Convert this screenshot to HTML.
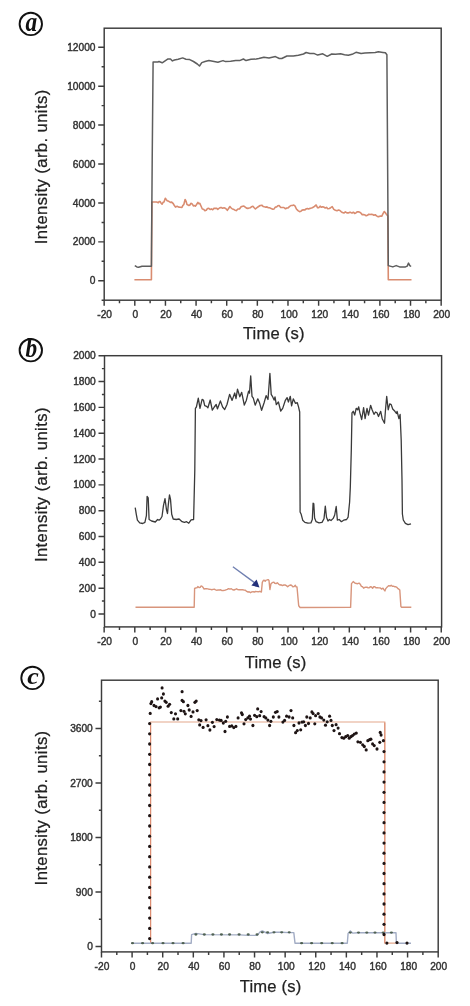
<!DOCTYPE html>
<html><head><meta charset="utf-8"><title>Intensity vs time</title>
<style>
html,body{margin:0;padding:0;background:#fff;}
body{width:470px;height:1006px;overflow:hidden;}
svg{display:block;}
.tk{font-family:"Liberation Sans", Arial, Helvetica, sans-serif;font-size:10.2px;fill:#333333;stroke:#333333;stroke-width:0.42px;}
.al{font-family:"Liberation Sans", Arial, Helvetica, sans-serif;font-size:16.6px;fill:#222;stroke:#222;stroke-width:0.25px;}
.yl{letter-spacing:0.42px;}
.xl{letter-spacing:0.2px;}
.bd{font-family:"Liberation Serif", "Times New Roman", serif;font-size:26.5px;font-weight:bold;font-style:italic;fill:#111;}
</style></head>
<body>
<svg width="470" height="1006" viewBox="0 0 470 1006">
<rect x="0" y="0" width="470" height="1006" fill="#fff"/>
<rect x="104.2" y="28.2" width="337.00" height="272.00" fill="none" stroke="#3c3c3c" stroke-width="1.45"/>
<path d="M98.2,280.80H104.2 M98.2,241.87H104.2 M98.2,202.94H104.2 M98.2,164.01H104.2 M98.2,125.08H104.2 M98.2,86.15H104.2 M98.2,47.22H104.2 M101.6,300.26H104.2 M101.6,261.34H104.2 M101.6,222.41H104.2 M101.6,183.48H104.2 M101.6,144.55H104.2 M101.6,105.62H104.2 M101.6,66.69H104.2 M104.16,300.2V305.7 M134.80,300.2V305.7 M165.44,300.2V305.7 M196.07,300.2V305.7 M226.71,300.2V305.7 M257.35,300.2V305.7 M287.98,300.2V305.7 M318.62,300.2V305.7 M349.25,300.2V305.7 M379.89,300.2V305.7 M410.53,300.2V305.7 M441.16,300.2V305.7 M119.48,300.2V303.2 M150.12,300.2V303.2 M180.75,300.2V303.2 M211.39,300.2V303.2 M242.03,300.2V303.2 M272.66,300.2V303.2 M303.30,300.2V303.2 M333.94,300.2V303.2 M364.57,300.2V303.2 M395.21,300.2V303.2 M425.85,300.2V303.2" stroke="#3c3c3c" stroke-width="1.45" fill="none"/>
<text x="95.5" y="284.40" text-anchor="end" class="tk">0</text>
<text x="95.5" y="245.47" text-anchor="end" class="tk">2000</text>
<text x="95.5" y="206.54" text-anchor="end" class="tk">4000</text>
<text x="95.5" y="167.61" text-anchor="end" class="tk">6000</text>
<text x="95.5" y="128.68" text-anchor="end" class="tk">8000</text>
<text x="95.5" y="89.75" text-anchor="end" class="tk">10000</text>
<text x="95.5" y="50.82" text-anchor="end" class="tk">12000</text>
<text x="104.66" y="318.0" text-anchor="middle" class="tk">-20</text>
<text x="135.30" y="318.0" text-anchor="middle" class="tk">0</text>
<text x="165.94" y="318.0" text-anchor="middle" class="tk">20</text>
<text x="196.57" y="318.0" text-anchor="middle" class="tk">40</text>
<text x="227.21" y="318.0" text-anchor="middle" class="tk">60</text>
<text x="257.85" y="318.0" text-anchor="middle" class="tk">80</text>
<text x="289.08" y="318.0" text-anchor="middle" class="tk">100</text>
<text x="319.72" y="318.0" text-anchor="middle" class="tk">120</text>
<text x="350.35" y="318.0" text-anchor="middle" class="tk">140</text>
<text x="380.99" y="318.0" text-anchor="middle" class="tk">160</text>
<text x="411.63" y="318.0" text-anchor="middle" class="tk">180</text>
<text x="441.66" y="318.0" text-anchor="middle" class="tk">200</text>
<text x="273.8" y="338.8" text-anchor="middle" class="al xl">Time (s)</text>
<text transform="translate(47.0,166.8) rotate(-90)" text-anchor="middle" class="al yl">Intensity (arb. units)</text>
<circle cx="30.8" cy="23.9" r="11.2" fill="none" stroke="#111" stroke-width="1.9"/>
<text transform="translate(31.2,30.5) scale(0.880,1.000)" text-anchor="middle" class="bd">a</text>
<polyline points="134.4,279.7 151.4,279.7 151.9,202.0 155.1,202.0 156.7,202.0 158.3,202.7 159.2,201.5 160.2,201.6 161.1,203.2 162.1,204.2 163.1,202.3 164.0,202.0 165.3,198.2 166.2,199.5 167.2,200.7 168.8,201.3 170.4,202.4 171.7,202.1 173.0,203.3 174.2,205.2 175.5,207.1 177.1,206.3 178.7,207.1 180.3,207.2 181.9,207.5 182.9,205.3 183.8,204.6 185.1,199.5 186.1,201.3 187.0,204.6 187.9,204.9 188.9,205.5 189.9,205.0 190.9,203.3 192.2,203.9 193.4,205.9 194.4,205.6 195.3,206.2 196.6,204.5 197.9,202.4 198.9,203.7 199.8,203.3 201.1,206.3 202.3,209.0 203.6,209.2 204.9,210.7 206.2,210.3 207.5,208.5 208.8,208.4 210.1,209.5 211.4,208.9 212.7,209.7 213.9,208.4 215.2,208.4 216.5,208.2 217.8,209.3 219.4,208.0 221.0,207.4 222.6,208.2 224.1,207.8 225.7,208.5 227.3,210.3 228.6,208.5 229.9,206.5 231.2,208.0 232.4,209.0 233.7,209.3 235.0,210.2 236.3,210.6 237.9,209.0 239.5,209.0 241.1,206.8 242.7,206.2 243.9,206.1 245.2,207.1 246.5,208.1 247.8,208.4 249.1,208.0 250.3,207.8 251.6,206.7 252.9,206.2 254.2,207.8 255.4,209.0 257.0,207.7 258.6,206.5 260.2,205.5 261.8,205.2 263.1,206.4 264.4,206.8 265.7,207.1 267.0,206.9 268.3,207.7 269.6,207.8 271.2,208.6 272.8,209.3 274.1,208.9 275.3,207.1 276.6,207.0 277.8,205.7 279.1,205.5 280.7,207.4 282.3,207.5 283.9,207.5 285.5,208.8 286.8,208.0 288.1,207.9 289.4,206.7 290.9,205.5 292.3,205.5 293.8,205.0 295.1,206.2 296.4,209.0 298.0,210.6 299.6,211.6 300.9,211.3 302.1,210.1 303.4,209.9 304.7,210.0 306.0,209.0 307.3,208.5 308.5,209.0 309.8,208.4 311.1,208.1 312.3,207.7 313.6,207.1 314.9,206.0 316.2,205.0 317.6,207.8 318.9,207.6 320.1,206.2 321.4,207.3 322.6,206.8 323.9,207.1 325.2,208.0 326.5,207.4 327.8,208.8 329.3,208.5 330.7,207.7 332.2,206.7 333.8,209.4 335.4,210.3 337.0,210.8 338.6,210.1 339.9,210.5 341.1,211.6 342.4,212.6 343.9,213.0 345.4,211.9 346.9,212.9 348.2,212.9 349.4,212.4 350.7,212.4 352.0,213.1 353.3,212.2 354.6,213.4 355.9,212.9 357.4,211.7 359.0,211.9 360.6,212.8 362.2,214.6 363.6,214.6 365.0,215.0 366.2,215.8 367.5,215.3 368.8,214.2 370.1,214.5 371.4,214.3 372.7,214.5 373.9,215.3 375.2,214.7 376.5,215.9 377.8,216.6 379.1,216.6 380.4,216.1 381.7,216.3 383.0,213.7 384.3,211.5 385.2,212.5 386.2,214.0 387.8,216.0 388.3,279.7 411.5,279.7" fill="none" stroke="#d98c70" stroke-width="1.6" stroke-linejoin="round"/>
<polyline points="134.8,265.6 136.9,266.9 138.6,267.3 142.0,266.2 151.4,266.2 152.2,160.0 153.1,62.1 157.8,62.1 159.0,61.5 162.2,62.8 168.0,58.9 170.5,58.9 172.4,60.9 174.4,60.0 178.2,59.2 182.7,57.9 185.9,59.2 189.7,59.6 193.5,61.5 197.3,64.0 199.5,66.0 201.8,62.6 205.0,61.5 208.9,60.6 212.8,61.3 217.9,62.2 223.0,60.6 225.5,61.6 230.6,61.2 235.7,60.6 239.6,60.6 243.4,59.0 246.0,60.6 251.0,59.3 256.2,59.0 258.8,58.5 263.9,57.2 269.0,57.9 275.4,56.6 279.3,58.5 281.8,58.5 286.9,56.0 293.3,56.0 298.4,55.3 303.5,54.0 306.1,52.5 309.9,53.4 313.8,53.4 317.7,55.1 322.8,53.8 327.2,56.3 331.7,54.0 335.5,54.3 340.6,53.8 344.5,54.7 348.3,55.3 352.1,54.3 356.0,52.3 361.1,53.4 364.9,53.0 370.1,52.8 375.2,52.5 378.4,51.7 382.9,52.4 385.4,52.8 386.9,54.7 388.3,265.6 392.8,266.9 396.2,265.6 399.6,266.9 405.5,266.9 407.2,266.1 408.5,263.1 409.8,265.6 411.1,266.5" fill="none" stroke="#5e5e5e" stroke-width="1.5" stroke-linejoin="round"/>
<rect x="104.5" y="355.7" width="337.10" height="271.20" fill="none" stroke="#3c3c3c" stroke-width="1.45"/>
<path d="M98.5,614.00H104.5 M98.5,588.17H104.5 M98.5,562.34H104.5 M98.5,536.51H104.5 M98.5,510.68H104.5 M98.5,484.85H104.5 M98.5,459.02H104.5 M98.5,433.19H104.5 M98.5,407.36H104.5 M98.5,381.53H104.5 M98.5,355.70H104.5 M101.9,601.09H104.5 M101.9,575.25H104.5 M101.9,549.42H104.5 M101.9,523.60H104.5 M101.9,497.76H104.5 M101.9,471.94H104.5 M101.9,446.11H104.5 M101.9,420.27H104.5 M101.9,394.45H104.5 M101.9,368.62H104.5 M104.15,626.9V632.4 M134.80,626.9V632.4 M165.45,626.9V632.4 M196.09,626.9V632.4 M226.74,626.9V632.4 M257.38,626.9V632.4 M288.03,626.9V632.4 M318.67,626.9V632.4 M349.32,626.9V632.4 M379.96,626.9V632.4 M410.61,626.9V632.4 M441.25,626.9V632.4 M119.48,626.9V629.9 M150.12,626.9V629.9 M180.77,626.9V629.9 M211.41,626.9V629.9 M242.06,626.9V629.9 M272.70,626.9V629.9 M303.35,626.9V629.9 M334.00,626.9V629.9 M364.64,626.9V629.9 M395.29,626.9V629.9 M425.93,626.9V629.9" stroke="#3c3c3c" stroke-width="1.45" fill="none"/>
<text x="95.8" y="617.60" text-anchor="end" class="tk">0</text>
<text x="95.8" y="591.77" text-anchor="end" class="tk">200</text>
<text x="95.8" y="565.94" text-anchor="end" class="tk">400</text>
<text x="95.8" y="540.11" text-anchor="end" class="tk">600</text>
<text x="95.8" y="514.28" text-anchor="end" class="tk">800</text>
<text x="95.8" y="488.45" text-anchor="end" class="tk">1000</text>
<text x="95.8" y="462.62" text-anchor="end" class="tk">1200</text>
<text x="95.8" y="436.79" text-anchor="end" class="tk">1400</text>
<text x="95.8" y="410.96" text-anchor="end" class="tk">1600</text>
<text x="95.8" y="385.13" text-anchor="end" class="tk">1800</text>
<text x="95.8" y="359.30" text-anchor="end" class="tk">2000</text>
<text x="104.65" y="645.0" text-anchor="middle" class="tk">-20</text>
<text x="135.30" y="645.0" text-anchor="middle" class="tk">0</text>
<text x="165.95" y="645.0" text-anchor="middle" class="tk">20</text>
<text x="196.59" y="645.0" text-anchor="middle" class="tk">40</text>
<text x="227.24" y="645.0" text-anchor="middle" class="tk">60</text>
<text x="257.88" y="645.0" text-anchor="middle" class="tk">80</text>
<text x="289.13" y="645.0" text-anchor="middle" class="tk">100</text>
<text x="319.77" y="645.0" text-anchor="middle" class="tk">120</text>
<text x="350.42" y="645.0" text-anchor="middle" class="tk">140</text>
<text x="381.06" y="645.0" text-anchor="middle" class="tk">160</text>
<text x="411.71" y="645.0" text-anchor="middle" class="tk">180</text>
<text x="441.75" y="645.0" text-anchor="middle" class="tk">200</text>
<text x="275.6" y="667.6" text-anchor="middle" class="al xl">Time (s)</text>
<text transform="translate(47.0,484.6) rotate(-90)" text-anchor="middle" class="al yl">Intensity (arb. units)</text>
<circle cx="30.8" cy="350.2" r="11.2" fill="none" stroke="#111" stroke-width="1.9"/>
<text transform="translate(31.2,356.8) scale(0.880,1.000)" text-anchor="middle" class="bd">b</text>
<polyline points="135.5,607.3 194.2,607.3 194.6,588.5 195.9,587.9 196.9,587.8 197.8,586.6 199.3,587.6 200.2,587.4 201.0,586.0 201.9,586.1 202.9,587.2 204.1,589.1 205.4,588.7 206.7,588.8 207.9,588.9 209.2,589.3 210.5,589.4 211.8,589.7 213.1,589.4 214.3,589.2 215.6,589.9 216.9,590.2 218.2,589.9 219.4,590.0 220.7,589.8 222.0,590.6 223.3,590.5 224.6,590.4 225.9,589.8 227.3,589.4 228.6,588.6 230.0,589.2 231.3,588.7 232.7,589.7 234.0,590.0 235.2,589.5 236.5,588.8 237.8,589.6 239.0,589.8 240.3,589.7 241.6,589.7 242.8,589.8 244.1,590.1 245.4,590.2 246.7,591.4 248.0,592.0 249.2,591.7 250.5,592.7 251.8,591.9 253.1,591.8 254.4,592.0 255.7,591.5 256.9,591.6 258.2,591.8 259.8,591.3 261.4,592.0 262.3,582.4 263.3,580.5 264.2,580.2 265.2,581.2 266.1,580.1 267.1,579.9 268.1,579.6 269.0,580.5 269.9,589.5 271.0,583.7 271.9,582.9 272.9,582.4 273.9,582.2 274.8,583.3 276.1,583.6 277.3,582.8 278.6,584.1 279.9,585.0 281.1,584.8 282.4,585.6 283.8,585.0 285.1,585.0 286.4,585.6 287.7,586.7 288.9,585.7 290.2,585.0 291.5,585.3 292.8,586.7 294.1,586.5 295.3,585.3 296.1,586.8 297.0,587.0 298.7,605.7 300.1,607.5 350.6,607.4 351.5,583.6 353.2,581.6 354.3,582.5 355.4,583.4 356.5,583.5 357.7,583.7 359.1,583.1 360.2,584.2 361.4,586.4 362.5,586.7 363.6,588.2 364.8,587.4 365.9,587.1 367.0,587.2 368.1,587.9 369.2,587.8 370.3,586.7 371.5,587.0 372.6,588.2 373.7,586.8 374.8,586.7 375.9,587.8 377.0,587.6 378.1,587.8 379.3,587.9 380.4,588.0 381.5,589.1 383.0,588.2 383.9,589.6 384.9,590.9 385.8,588.6 386.7,587.6 387.8,586.6 388.9,585.6 390.0,586.1 391.2,585.2 392.3,586.2 393.4,586.1 394.5,586.7 395.6,586.7 396.8,587.3 397.9,588.6 398.9,589.2 399.8,590.1 400.9,606.5 401.6,607.2 411.3,607.2" fill="none" stroke="#d8957c" stroke-width="1.4" stroke-linejoin="round"/>
<polyline points="135.2,507.6 136.3,514.3 137.4,520.2 139.7,522.9 142.7,523.5 144.9,522.4 146.4,515.7 147.1,496.4 148.2,497.9 149.1,519.5 151.6,521.0 155.3,522.0 157.6,519.5 159.0,520.2 160.5,519.0 162.0,516.5 163.5,505.3 165.0,498.6 166.5,509.8 167.5,513.5 168.4,503.8 169.5,494.9 170.5,499.4 171.7,514.3 173.2,519.0 176.2,519.5 179.1,519.0 182.1,521.7 184.4,522.4 186.6,521.7 188.8,523.2 191.1,519.9 193.6,519.5 194.8,470.0 195.4,408.3 196.4,407.0 198.3,398.1 200.0,408.3 202.1,399.4 203.4,400.0 204.7,405.7 206.6,406.4 207.9,407.7 210.2,400.0 212.3,410.2 214.3,407.0 216.2,404.5 217.4,408.9 220.4,400.9 222.6,407.0 224.7,409.6 227.0,404.5 229.6,394.3 232.1,400.4 234.7,393.0 236.0,398.7 237.5,389.1 239.8,396.8 241.7,392.3 244.3,405.1 246.3,400.5 248.6,391.2 249.5,393.1 250.7,375.9 252.0,396.3 253.3,398.2 255.2,405.2 257.8,398.8 259.7,403.3 261.6,410.3 264.1,402.7 266.1,395.6 268.0,399.5 269.9,373.3 271.2,394.4 272.4,396.3 274.1,400.1 275.0,396.9 276.3,404.6 278.4,402.0 280.7,411.0 282.7,408.4 285.2,400.7 287.1,397.6 288.4,402.0 290.3,396.3 291.6,405.9 293.3,398.8 295.4,403.3 297.3,402.7 298.6,407.1 299.7,412.0 300.1,512.0 301.2,514.3 302.7,520.2 304.9,522.4 307.9,523.2 310.9,522.9 312.3,519.5 313.1,503.1 313.8,503.8 314.6,518.0 316.1,521.7 319.0,522.9 322.0,522.4 324.0,518.7 325.3,506.1 326.5,517.2 328.0,521.0 329.5,519.5 331.0,520.5 333.2,518.4 334.7,515.0 336.2,506.5 337.4,520.2 339.2,519.5 341.4,521.7 343.6,520.2 346.6,519.5 348.1,517.2 349.6,502.3 350.3,487.4 351.3,450.0 352.0,412.8 353.2,411.3 354.7,415.0 356.2,408.3 357.7,409.8 358.7,406.8 359.9,412.8 361.7,419.5 363.6,407.6 365.1,418.7 367.0,408.3 368.5,415.0 370.6,405.3 372.1,409.8 374.0,414.3 375.5,412.0 377.0,412.8 378.5,416.5 380.7,411.3 382.2,418.7 384.5,423.2 385.5,409.8 386.7,396.4 388.2,409.8 389.7,403.8 391.2,404.6 392.7,409.0 394.9,411.3 396.4,413.5 397.1,411.3 398.9,418.7 400.1,414.3 401.2,440.0 402.0,480.0 402.4,514.0 403.3,520.0 405.4,523.4 408.0,524.7 411.0,523.8" fill="none" stroke="#3a3a3a" stroke-width="1.3" stroke-linejoin="round"/>
<line x1="232.9" y1="566.7" x2="254.5" y2="582.6" stroke="#6f7fb0" stroke-width="1.4"/>
<polygon points="259.5,587.4 251.4,585.6 256.6,579.6" fill="#22307a"/>
<rect x="101.5" y="680.2" width="336.70" height="271.70" fill="none" stroke="#3c3c3c" stroke-width="1.45"/>
<path d="M95.5,946.50H101.5 M95.5,892.00H101.5 M95.5,837.50H101.5 M95.5,783.00H101.5 M95.5,728.50H101.5 M98.9,919.25H101.5 M98.9,864.75H101.5 M98.9,810.25H101.5 M98.9,755.75H101.5 M98.9,701.25H101.5 M101.49,951.9V957.4 M132.10,951.9V957.4 M162.71,951.9V957.4 M193.32,951.9V957.4 M223.93,951.9V957.4 M254.54,951.9V957.4 M285.15,951.9V957.4 M315.75,951.9V957.4 M346.36,951.9V957.4 M376.97,951.9V957.4 M407.58,951.9V957.4 M438.19,951.9V957.4 M116.80,951.9V954.9 M147.40,951.9V954.9 M178.01,951.9V954.9 M208.62,951.9V954.9 M239.23,951.9V954.9 M269.84,951.9V954.9 M300.45,951.9V954.9 M331.06,951.9V954.9 M361.67,951.9V954.9 M392.28,951.9V954.9 M422.89,951.9V954.9" stroke="#3c3c3c" stroke-width="1.45" fill="none"/>
<text x="92.8" y="950.10" text-anchor="end" class="tk">0</text>
<text x="92.8" y="895.60" text-anchor="end" class="tk">900</text>
<text x="92.8" y="841.10" text-anchor="end" class="tk">1800</text>
<text x="92.8" y="786.60" text-anchor="end" class="tk">2700</text>
<text x="92.8" y="732.10" text-anchor="end" class="tk">3600</text>
<text x="101.99" y="970.2" text-anchor="middle" class="tk">-20</text>
<text x="132.60" y="970.2" text-anchor="middle" class="tk">0</text>
<text x="163.21" y="970.2" text-anchor="middle" class="tk">20</text>
<text x="193.82" y="970.2" text-anchor="middle" class="tk">40</text>
<text x="224.43" y="970.2" text-anchor="middle" class="tk">60</text>
<text x="255.04" y="970.2" text-anchor="middle" class="tk">80</text>
<text x="286.25" y="970.2" text-anchor="middle" class="tk">100</text>
<text x="316.85" y="970.2" text-anchor="middle" class="tk">120</text>
<text x="347.46" y="970.2" text-anchor="middle" class="tk">140</text>
<text x="378.07" y="970.2" text-anchor="middle" class="tk">160</text>
<text x="408.68" y="970.2" text-anchor="middle" class="tk">180</text>
<text x="438.69" y="970.2" text-anchor="middle" class="tk">200</text>
<text x="270.6" y="992.3" text-anchor="middle" class="al xl">Time (s)</text>
<text transform="translate(47.0,807.9) rotate(-90)" text-anchor="middle" class="al yl">Intensity (arb. units)</text>
<circle cx="32.5" cy="677.9" r="11.2" fill="none" stroke="#111" stroke-width="1.9"/>
<text transform="translate(32.9,683.9) scale(0.980,0.900)" text-anchor="middle" class="bd">c</text>
<polyline points="150.6,943.2 150.6,722.0 384.8,722.0 384.8,943.2 397.0,943.2" fill="none" stroke="#e4a88c" stroke-width="1.2"/>
<path d="M150.6,943.2V722.6M384.8,943.2V722.6" fill="none" stroke="#dc8a70" stroke-width="1.0"/>
<polyline points="131.6,943.2 191.2,943.2 191.6,934.6 195.9,933.4 204.0,934.6 240.0,934.9 248.2,935.4 257.1,935.4 260.1,931.9 262.3,930.9 267.6,933.5 274.0,932.2 281.7,932.2 289.2,932.6 293.8,932.6 295.0,943.2 347.3,943.2 348.1,933.4 350.3,930.9 352.6,933.1 357.8,932.7 396.0,932.8 396.4,943.2 411.0,943.2" fill="none" stroke="#a2acc4" stroke-width="1.4" stroke-linejoin="round"/>
<ellipse cx="132.5" cy="943.2" rx="1.6" ry="1.15" fill="#4f6152"/>
<ellipse cx="142.6" cy="943.2" rx="1.6" ry="1.15" fill="#4f6152"/>
<ellipse cx="152.6" cy="943.2" rx="1.6" ry="1.15" fill="#4f6152"/>
<ellipse cx="163.0" cy="943.2" rx="1.6" ry="1.15" fill="#4f6152"/>
<ellipse cx="173.0" cy="943.2" rx="1.6" ry="1.15" fill="#4f6152"/>
<ellipse cx="183.1" cy="943.2" rx="1.6" ry="1.15" fill="#4f6152"/>
<ellipse cx="301.6" cy="943.2" rx="1.6" ry="1.15" fill="#4f6152"/>
<ellipse cx="311.6" cy="943.2" rx="1.6" ry="1.15" fill="#4f6152"/>
<ellipse cx="321.7" cy="943.2" rx="1.6" ry="1.15" fill="#4f6152"/>
<ellipse cx="332.2" cy="943.2" rx="1.6" ry="1.15" fill="#4f6152"/>
<ellipse cx="342.1" cy="943.2" rx="1.6" ry="1.15" fill="#4f6152"/>
<ellipse cx="195.9" cy="934.5" rx="1.6" ry="1.15" fill="#4f6152"/>
<ellipse cx="204.3" cy="934.5" rx="1.6" ry="1.15" fill="#4f6152"/>
<ellipse cx="212.9" cy="934.5" rx="1.6" ry="1.15" fill="#4f6152"/>
<ellipse cx="221.4" cy="934.5" rx="1.6" ry="1.15" fill="#4f6152"/>
<ellipse cx="229.6" cy="934.5" rx="1.6" ry="1.15" fill="#4f6152"/>
<ellipse cx="239.1" cy="934.5" rx="1.6" ry="1.15" fill="#4f6152"/>
<ellipse cx="248.2" cy="934.5" rx="1.6" ry="1.15" fill="#4f6152"/>
<ellipse cx="257.1" cy="934.5" rx="1.6" ry="1.15" fill="#4f6152"/>
<ellipse cx="262.3" cy="932.3" rx="1.6" ry="1.15" fill="#4f6152"/>
<ellipse cx="267.6" cy="932.3" rx="1.6" ry="1.15" fill="#4f6152"/>
<ellipse cx="274.0" cy="932.3" rx="1.6" ry="1.15" fill="#4f6152"/>
<ellipse cx="281.7" cy="932.3" rx="1.6" ry="1.15" fill="#4f6152"/>
<ellipse cx="289.2" cy="932.3" rx="1.6" ry="1.15" fill="#4f6152"/>
<ellipse cx="350.3" cy="932.6" rx="1.6" ry="1.15" fill="#4f6152"/>
<ellipse cx="358.5" cy="932.6" rx="1.6" ry="1.15" fill="#4f6152"/>
<ellipse cx="366.8" cy="932.6" rx="1.6" ry="1.15" fill="#4f6152"/>
<ellipse cx="375.0" cy="932.6" rx="1.6" ry="1.15" fill="#4f6152"/>
<ellipse cx="383.2" cy="932.6" rx="1.6" ry="1.15" fill="#4f6152"/>
<ellipse cx="391.4" cy="932.6" rx="1.6" ry="1.15" fill="#4f6152"/>
<ellipse cx="149.6" cy="938.6" rx="1.55" ry="1.65" fill="#1e1414"/>
<ellipse cx="149.6" cy="928.4" rx="1.55" ry="1.65" fill="#1e1414"/>
<ellipse cx="149.6" cy="918.1" rx="1.55" ry="1.65" fill="#1e1414"/>
<ellipse cx="149.6" cy="907.9" rx="1.55" ry="1.65" fill="#1e1414"/>
<ellipse cx="149.6" cy="897.6" rx="1.55" ry="1.65" fill="#1e1414"/>
<ellipse cx="149.6" cy="887.4" rx="1.55" ry="1.65" fill="#1e1414"/>
<ellipse cx="149.6" cy="877.2" rx="1.55" ry="1.65" fill="#1e1414"/>
<ellipse cx="149.6" cy="866.9" rx="1.55" ry="1.65" fill="#1e1414"/>
<ellipse cx="149.6" cy="856.7" rx="1.55" ry="1.65" fill="#1e1414"/>
<ellipse cx="149.6" cy="846.4" rx="1.55" ry="1.65" fill="#1e1414"/>
<ellipse cx="149.6" cy="836.2" rx="1.55" ry="1.65" fill="#1e1414"/>
<ellipse cx="149.6" cy="826.0" rx="1.55" ry="1.65" fill="#1e1414"/>
<ellipse cx="149.6" cy="815.7" rx="1.55" ry="1.65" fill="#1e1414"/>
<ellipse cx="149.6" cy="805.5" rx="1.55" ry="1.65" fill="#1e1414"/>
<ellipse cx="149.6" cy="795.2" rx="1.55" ry="1.65" fill="#1e1414"/>
<ellipse cx="149.6" cy="785.0" rx="1.55" ry="1.65" fill="#1e1414"/>
<ellipse cx="149.6" cy="774.8" rx="1.55" ry="1.65" fill="#1e1414"/>
<ellipse cx="149.6" cy="764.5" rx="1.55" ry="1.65" fill="#1e1414"/>
<ellipse cx="149.6" cy="754.3" rx="1.55" ry="1.65" fill="#1e1414"/>
<ellipse cx="149.6" cy="744.0" rx="1.55" ry="1.65" fill="#1e1414"/>
<ellipse cx="149.6" cy="733.8" rx="1.55" ry="1.65" fill="#1e1414"/>
<ellipse cx="149.6" cy="723.6" rx="1.55" ry="1.65" fill="#1e1414"/>
<ellipse cx="384.0" cy="934.5" rx="1.55" ry="1.65" fill="#1e1414"/>
<ellipse cx="384.0" cy="924.3" rx="1.55" ry="1.65" fill="#1e1414"/>
<ellipse cx="384.0" cy="914.2" rx="1.55" ry="1.65" fill="#1e1414"/>
<ellipse cx="384.0" cy="904.0" rx="1.55" ry="1.65" fill="#1e1414"/>
<ellipse cx="384.0" cy="893.9" rx="1.55" ry="1.65" fill="#1e1414"/>
<ellipse cx="384.0" cy="883.7" rx="1.55" ry="1.65" fill="#1e1414"/>
<ellipse cx="384.0" cy="873.5" rx="1.55" ry="1.65" fill="#1e1414"/>
<ellipse cx="384.0" cy="863.4" rx="1.55" ry="1.65" fill="#1e1414"/>
<ellipse cx="384.0" cy="853.2" rx="1.55" ry="1.65" fill="#1e1414"/>
<ellipse cx="384.0" cy="843.1" rx="1.55" ry="1.65" fill="#1e1414"/>
<ellipse cx="384.0" cy="832.9" rx="1.55" ry="1.65" fill="#1e1414"/>
<ellipse cx="384.0" cy="822.7" rx="1.55" ry="1.65" fill="#1e1414"/>
<ellipse cx="384.0" cy="812.6" rx="1.55" ry="1.65" fill="#1e1414"/>
<ellipse cx="384.0" cy="802.4" rx="1.55" ry="1.65" fill="#1e1414"/>
<ellipse cx="384.0" cy="792.3" rx="1.55" ry="1.65" fill="#1e1414"/>
<ellipse cx="384.0" cy="782.1" rx="1.55" ry="1.65" fill="#1e1414"/>
<ellipse cx="384.0" cy="771.9" rx="1.55" ry="1.65" fill="#1e1414"/>
<ellipse cx="384.0" cy="761.8" rx="1.55" ry="1.65" fill="#1e1414"/>
<ellipse cx="384.0" cy="751.6" rx="1.55" ry="1.65" fill="#1e1414"/>
<ellipse cx="386.9" cy="943.1" rx="1.55" ry="1.65" fill="#1e1414"/>
<ellipse cx="397.0" cy="942.6" rx="1.55" ry="1.65" fill="#1e1414"/>
<ellipse cx="407.0" cy="943.1" rx="1.55" ry="1.65" fill="#1e1414"/>
<ellipse cx="150.2" cy="713.4" rx="1.55" ry="1.65" fill="#1e1414"/>
<ellipse cx="150.9" cy="703.6" rx="1.55" ry="1.65" fill="#1e1414"/>
<ellipse cx="151.7" cy="701.7" rx="1.55" ry="1.65" fill="#1e1414"/>
<ellipse cx="154.0" cy="705.5" rx="1.55" ry="1.65" fill="#1e1414"/>
<ellipse cx="156.0" cy="706.6" rx="1.55" ry="1.65" fill="#1e1414"/>
<ellipse cx="157.6" cy="698.9" rx="1.55" ry="1.65" fill="#1e1414"/>
<ellipse cx="159.1" cy="707.8" rx="1.55" ry="1.65" fill="#1e1414"/>
<ellipse cx="160.4" cy="707.1" rx="1.55" ry="1.65" fill="#1e1414"/>
<ellipse cx="161.7" cy="697.9" rx="1.55" ry="1.65" fill="#1e1414"/>
<ellipse cx="163.4" cy="694.0" rx="1.55" ry="1.65" fill="#1e1414"/>
<ellipse cx="162.1" cy="687.9" rx="1.55" ry="1.65" fill="#1e1414"/>
<ellipse cx="164.9" cy="701.1" rx="1.55" ry="1.65" fill="#1e1414"/>
<ellipse cx="166.2" cy="702.3" rx="1.55" ry="1.65" fill="#1e1414"/>
<ellipse cx="168.1" cy="706.2" rx="1.55" ry="1.65" fill="#1e1414"/>
<ellipse cx="169.6" cy="704.3" rx="1.55" ry="1.65" fill="#1e1414"/>
<ellipse cx="171.3" cy="712.6" rx="1.55" ry="1.65" fill="#1e1414"/>
<ellipse cx="175.5" cy="713.8" rx="1.55" ry="1.65" fill="#1e1414"/>
<ellipse cx="173.8" cy="718.9" rx="1.55" ry="1.65" fill="#1e1414"/>
<ellipse cx="177.7" cy="718.9" rx="1.55" ry="1.65" fill="#1e1414"/>
<ellipse cx="182.1" cy="691.7" rx="1.55" ry="1.65" fill="#1e1414"/>
<ellipse cx="182.1" cy="700.4" rx="1.55" ry="1.65" fill="#1e1414"/>
<ellipse cx="183.4" cy="701.7" rx="1.55" ry="1.65" fill="#1e1414"/>
<ellipse cx="180.9" cy="710.6" rx="1.55" ry="1.65" fill="#1e1414"/>
<ellipse cx="184.0" cy="711.3" rx="1.55" ry="1.65" fill="#1e1414"/>
<ellipse cx="185.3" cy="713.8" rx="1.55" ry="1.65" fill="#1e1414"/>
<ellipse cx="187.9" cy="705.5" rx="1.55" ry="1.65" fill="#1e1414"/>
<ellipse cx="189.2" cy="710.0" rx="1.55" ry="1.65" fill="#1e1414"/>
<ellipse cx="191.1" cy="716.4" rx="1.55" ry="1.65" fill="#1e1414"/>
<ellipse cx="193.0" cy="711.9" rx="1.55" ry="1.65" fill="#1e1414"/>
<ellipse cx="194.9" cy="702.3" rx="1.55" ry="1.65" fill="#1e1414"/>
<ellipse cx="196.2" cy="701.1" rx="1.55" ry="1.65" fill="#1e1414"/>
<ellipse cx="197.2" cy="710.6" rx="1.55" ry="1.65" fill="#1e1414"/>
<ellipse cx="198.8" cy="719.8" rx="1.55" ry="1.65" fill="#1e1414"/>
<ellipse cx="201.0" cy="720.6" rx="1.55" ry="1.65" fill="#1e1414"/>
<ellipse cx="199.7" cy="724.9" rx="1.55" ry="1.65" fill="#1e1414"/>
<ellipse cx="203.1" cy="727.4" rx="1.55" ry="1.65" fill="#1e1414"/>
<ellipse cx="206.1" cy="719.8" rx="1.55" ry="1.65" fill="#1e1414"/>
<ellipse cx="207.9" cy="725.7" rx="1.55" ry="1.65" fill="#1e1414"/>
<ellipse cx="209.9" cy="730.0" rx="1.55" ry="1.65" fill="#1e1414"/>
<ellipse cx="212.4" cy="722.3" rx="1.55" ry="1.65" fill="#1e1414"/>
<ellipse cx="214.1" cy="726.6" rx="1.55" ry="1.65" fill="#1e1414"/>
<ellipse cx="216.8" cy="719.6" rx="1.55" ry="1.65" fill="#1e1414"/>
<ellipse cx="219.4" cy="720.1" rx="1.55" ry="1.65" fill="#1e1414"/>
<ellipse cx="221.1" cy="720.4" rx="1.55" ry="1.65" fill="#1e1414"/>
<ellipse cx="223.3" cy="723.0" rx="1.55" ry="1.65" fill="#1e1414"/>
<ellipse cx="225.0" cy="731.5" rx="1.55" ry="1.65" fill="#1e1414"/>
<ellipse cx="225.7" cy="721.3" rx="1.55" ry="1.65" fill="#1e1414"/>
<ellipse cx="227.4" cy="717.0" rx="1.55" ry="1.65" fill="#1e1414"/>
<ellipse cx="229.6" cy="726.4" rx="1.55" ry="1.65" fill="#1e1414"/>
<ellipse cx="231.8" cy="725.9" rx="1.55" ry="1.65" fill="#1e1414"/>
<ellipse cx="233.8" cy="727.6" rx="1.55" ry="1.65" fill="#1e1414"/>
<ellipse cx="235.9" cy="726.4" rx="1.55" ry="1.65" fill="#1e1414"/>
<ellipse cx="238.1" cy="717.9" rx="1.55" ry="1.65" fill="#1e1414"/>
<ellipse cx="241.5" cy="712.8" rx="1.55" ry="1.65" fill="#1e1414"/>
<ellipse cx="242.3" cy="714.5" rx="1.55" ry="1.65" fill="#1e1414"/>
<ellipse cx="244.0" cy="723.8" rx="1.55" ry="1.65" fill="#1e1414"/>
<ellipse cx="245.7" cy="719.6" rx="1.55" ry="1.65" fill="#1e1414"/>
<ellipse cx="247.8" cy="717.9" rx="1.55" ry="1.65" fill="#1e1414"/>
<ellipse cx="249.5" cy="716.2" rx="1.55" ry="1.65" fill="#1e1414"/>
<ellipse cx="250.5" cy="719.1" rx="1.55" ry="1.65" fill="#1e1414"/>
<ellipse cx="252.9" cy="725.5" rx="1.55" ry="1.65" fill="#1e1414"/>
<ellipse cx="254.6" cy="715.3" rx="1.55" ry="1.65" fill="#1e1414"/>
<ellipse cx="256.8" cy="716.7" rx="1.55" ry="1.65" fill="#1e1414"/>
<ellipse cx="257.7" cy="708.9" rx="1.55" ry="1.65" fill="#1e1414"/>
<ellipse cx="259.7" cy="715.7" rx="1.55" ry="1.65" fill="#1e1414"/>
<ellipse cx="261.1" cy="711.6" rx="1.55" ry="1.65" fill="#1e1414"/>
<ellipse cx="264.1" cy="716.7" rx="1.55" ry="1.65" fill="#1e1414"/>
<ellipse cx="265.8" cy="717.9" rx="1.55" ry="1.65" fill="#1e1414"/>
<ellipse cx="267.9" cy="720.1" rx="1.55" ry="1.65" fill="#1e1414"/>
<ellipse cx="269.6" cy="725.5" rx="1.55" ry="1.65" fill="#1e1414"/>
<ellipse cx="270.9" cy="721.3" rx="1.55" ry="1.65" fill="#1e1414"/>
<ellipse cx="273.3" cy="717.0" rx="1.55" ry="1.65" fill="#1e1414"/>
<ellipse cx="275.5" cy="712.3" rx="1.55" ry="1.65" fill="#1e1414"/>
<ellipse cx="277.2" cy="711.6" rx="1.55" ry="1.65" fill="#1e1414"/>
<ellipse cx="278.9" cy="717.0" rx="1.55" ry="1.65" fill="#1e1414"/>
<ellipse cx="282.9" cy="722.1" rx="1.55" ry="1.65" fill="#1e1414"/>
<ellipse cx="284.6" cy="720.4" rx="1.55" ry="1.65" fill="#1e1414"/>
<ellipse cx="286.6" cy="716.2" rx="1.55" ry="1.65" fill="#1e1414"/>
<ellipse cx="289.1" cy="717.0" rx="1.55" ry="1.65" fill="#1e1414"/>
<ellipse cx="291.0" cy="710.6" rx="1.55" ry="1.65" fill="#1e1414"/>
<ellipse cx="292.7" cy="717.9" rx="1.55" ry="1.65" fill="#1e1414"/>
<ellipse cx="293.9" cy="725.5" rx="1.55" ry="1.65" fill="#1e1414"/>
<ellipse cx="295.6" cy="732.7" rx="1.55" ry="1.65" fill="#1e1414"/>
<ellipse cx="297.3" cy="730.6" rx="1.55" ry="1.65" fill="#1e1414"/>
<ellipse cx="299.0" cy="723.0" rx="1.55" ry="1.65" fill="#1e1414"/>
<ellipse cx="300.7" cy="729.8" rx="1.55" ry="1.65" fill="#1e1414"/>
<ellipse cx="302.0" cy="722.1" rx="1.55" ry="1.65" fill="#1e1414"/>
<ellipse cx="303.7" cy="721.8" rx="1.55" ry="1.65" fill="#1e1414"/>
<ellipse cx="305.4" cy="725.5" rx="1.55" ry="1.65" fill="#1e1414"/>
<ellipse cx="306.8" cy="717.0" rx="1.55" ry="1.65" fill="#1e1414"/>
<ellipse cx="308.5" cy="723.5" rx="1.55" ry="1.65" fill="#1e1414"/>
<ellipse cx="310.2" cy="717.9" rx="1.55" ry="1.65" fill="#1e1414"/>
<ellipse cx="311.9" cy="711.9" rx="1.55" ry="1.65" fill="#1e1414"/>
<ellipse cx="313.1" cy="713.6" rx="1.55" ry="1.65" fill="#1e1414"/>
<ellipse cx="314.8" cy="723.8" rx="1.55" ry="1.65" fill="#1e1414"/>
<ellipse cx="315.6" cy="715.7" rx="1.55" ry="1.65" fill="#1e1414"/>
<ellipse cx="318.2" cy="713.6" rx="1.55" ry="1.65" fill="#1e1414"/>
<ellipse cx="319.9" cy="717.0" rx="1.55" ry="1.65" fill="#1e1414"/>
<ellipse cx="321.6" cy="717.9" rx="1.55" ry="1.65" fill="#1e1414"/>
<ellipse cx="323.8" cy="720.1" rx="1.55" ry="1.65" fill="#1e1414"/>
<ellipse cx="325.5" cy="725.2" rx="1.55" ry="1.65" fill="#1e1414"/>
<ellipse cx="327.2" cy="721.8" rx="1.55" ry="1.65" fill="#1e1414"/>
<ellipse cx="329.6" cy="716.2" rx="1.55" ry="1.65" fill="#1e1414"/>
<ellipse cx="331.0" cy="720.4" rx="1.55" ry="1.65" fill="#1e1414"/>
<ellipse cx="332.3" cy="725.5" rx="1.55" ry="1.65" fill="#1e1414"/>
<ellipse cx="334.0" cy="730.6" rx="1.55" ry="1.65" fill="#1e1414"/>
<ellipse cx="336.1" cy="724.7" rx="1.55" ry="1.65" fill="#1e1414"/>
<ellipse cx="338.1" cy="728.1" rx="1.55" ry="1.65" fill="#1e1414"/>
<ellipse cx="339.5" cy="733.7" rx="1.55" ry="1.65" fill="#1e1414"/>
<ellipse cx="341.9" cy="737.6" rx="1.55" ry="1.65" fill="#1e1414"/>
<ellipse cx="343.8" cy="738.2" rx="1.55" ry="1.65" fill="#1e1414"/>
<ellipse cx="345.7" cy="736.7" rx="1.55" ry="1.65" fill="#1e1414"/>
<ellipse cx="347.7" cy="735.6" rx="1.55" ry="1.65" fill="#1e1414"/>
<ellipse cx="349.2" cy="738.2" rx="1.55" ry="1.65" fill="#1e1414"/>
<ellipse cx="350.9" cy="736.7" rx="1.55" ry="1.65" fill="#1e1414"/>
<ellipse cx="352.5" cy="735.6" rx="1.55" ry="1.65" fill="#1e1414"/>
<ellipse cx="354.3" cy="734.1" rx="1.55" ry="1.65" fill="#1e1414"/>
<ellipse cx="356.3" cy="733.1" rx="1.55" ry="1.65" fill="#1e1414"/>
<ellipse cx="357.9" cy="741.8" rx="1.55" ry="1.65" fill="#1e1414"/>
<ellipse cx="360.4" cy="742.3" rx="1.55" ry="1.65" fill="#1e1414"/>
<ellipse cx="362.7" cy="744.8" rx="1.55" ry="1.65" fill="#1e1414"/>
<ellipse cx="364.3" cy="746.5" rx="1.55" ry="1.65" fill="#1e1414"/>
<ellipse cx="366.2" cy="749.9" rx="1.55" ry="1.65" fill="#1e1414"/>
<ellipse cx="367.8" cy="740.7" rx="1.55" ry="1.65" fill="#1e1414"/>
<ellipse cx="369.6" cy="739.7" rx="1.55" ry="1.65" fill="#1e1414"/>
<ellipse cx="370.9" cy="739.2" rx="1.55" ry="1.65" fill="#1e1414"/>
<ellipse cx="372.6" cy="743.9" rx="1.55" ry="1.65" fill="#1e1414"/>
<ellipse cx="374.2" cy="745.6" rx="1.55" ry="1.65" fill="#1e1414"/>
<ellipse cx="377.0" cy="749.0" rx="1.55" ry="1.65" fill="#1e1414"/>
<ellipse cx="379.8" cy="742.3" rx="1.55" ry="1.65" fill="#1e1414"/>
<ellipse cx="380.2" cy="732.4" rx="1.55" ry="1.65" fill="#1e1414"/>
<ellipse cx="381.1" cy="735.0" rx="1.55" ry="1.65" fill="#1e1414"/>
<ellipse cx="383.4" cy="740.7" rx="1.55" ry="1.65" fill="#1e1414"/>
</svg>
</body></html>
